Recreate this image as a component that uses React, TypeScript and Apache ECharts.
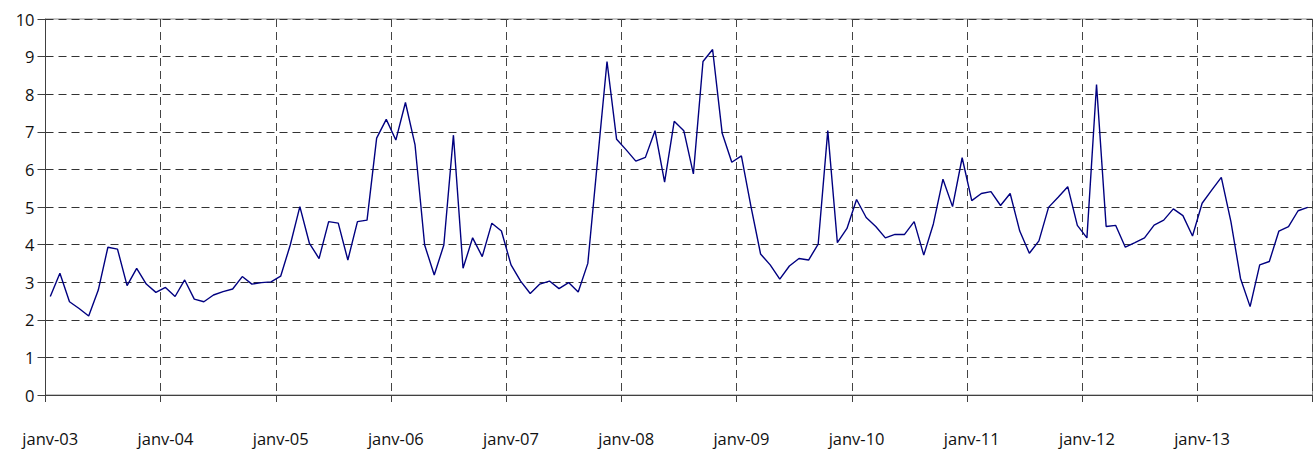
import React, { useEffect, useRef } from "react";
import * as echarts from "echarts";

const MONTHS = ["janv", "févr", "mars", "avr", "mai", "juin", "juil", "août", "sept", "oct", "nov", "déc"];
const YEARS = ["03", "04", "05", "06", "07", "08", "09", "10", "11", "12", "13"];
const categories: string[] = [];
YEARS.forEach((y) => MONTHS.forEach((m) => categories.push(`${m}-${y}`)));

const values2003 = [2.62, 3.24, 2.48, 2.30, 2.10, 2.79, 3.93, 3.88, 2.91, 3.37, 2.95, 2.73];
const values2004 = [2.86, 2.62, 3.06, 2.55, 2.48, 2.66, 2.75, 2.82, 3.15, 2.95, 2.99, 3.01];
const values2005 = [3.16, 3.99, 5.01, 4.03, 3.63, 4.61, 4.57, 3.59, 4.61, 4.65, 6.83, 7.33];
const values2006 = [6.78, 7.78, 6.65, 3.99, 3.19, 3.99, 6.91, 3.37, 4.18, 3.68, 4.57, 4.36];
const values2007 = [3.46, 3.03, 2.70, 2.95, 3.03, 2.83, 2.99, 2.74, 3.50, 6.20, 8.87, 6.80];
const values2008 = [6.52, 6.22, 6.32, 7.03, 5.66, 7.28, 7.03, 5.88, 8.87, 9.19, 6.96, 6.19];
const values2009 = [6.36, 5.01, 3.75, 3.46, 3.08, 3.43, 3.63, 3.59, 4.01, 7.03, 4.05, 4.43];
const values2010 = [5.20, 4.72, 4.48, 4.18, 4.27, 4.27, 4.61, 3.72, 4.55, 5.74, 5.01, 6.31];
const values2011 = [5.17, 5.36, 5.41, 5.04, 5.36, 4.36, 3.77, 4.10, 4.99, 5.26, 5.54, 4.51];
const values2012 = [4.18, 8.26, 4.48, 4.51, 3.93, 4.05, 4.18, 4.52, 4.65, 4.95, 4.77, 4.23];
const values2013 = [5.10, 5.45, 5.79, 4.61, 3.10, 2.35, 3.46, 3.55, 4.36, 4.48, 4.90, 4.99];

const series = [
  ...values2003, ...values2004, ...values2005, ...values2006, ...values2007, ...values2008,
  ...values2009, ...values2010, ...values2011, ...values2012, ...values2013,
];

export default function App() {
  const ref = useRef<HTMLDivElement>(null);
  useEffect(() => {
    document.body.style.margin = "0";
    const chart = echarts.init(ref.current!, undefined, { renderer: "svg" });
    const font = "'Open Sans', 'DejaVu Sans', sans-serif";
    chart.setOption({
      animation: false,
      backgroundColor: "#ffffff",
      grid: {
        left: 45.5,
        right: 1.5,
        top: 19,
        bottom: 57,
        show: true,
        borderColor: "#8a8a8a",
        borderWidth: 1,
      },
      xAxis: {
        type: "category",
        data: categories,
        boundaryGap: true,
        axisLine: { show: true, lineStyle: { color: "#404040", width: 1 } },
        axisTick: { show: true, interval: 11, length: 7, lineStyle: { color: "#404040" } },
        axisLabel: {
          interval: 11,
          margin: 35,
          color: "#111",
          fontFamily: font,
          fontSize: 16.5,
        },
        splitLine: {
          show: true,
          interval: 11,
          lineStyle: { color: "#444", type: [8, 5], width: 1 },
        },
      },
      yAxis: {
        type: "value",
        min: 0,
        max: 10,
        interval: 1,
        axisLine: { show: true, lineStyle: { color: "#404040", width: 1 } },
        axisTick: { show: true, length: 8, lineStyle: { color: "#404040" } },
        axisLabel: { margin: 11, color: "#111", fontFamily: font, fontSize: 16.5 },
        splitLine: { show: true, lineStyle: { color: "#333", type: [8, 5], width: 1 } },
      },
      series: [
        {
          type: "line",
          data: series,
          symbol: "none",
          lineStyle: { color: "#000080", width: 1.4 },
        },
      ],
    });
    return () => chart.dispose();
  }, []);
  return <div ref={ref} style={{ width: 1314, height: 452 }} />;
}
